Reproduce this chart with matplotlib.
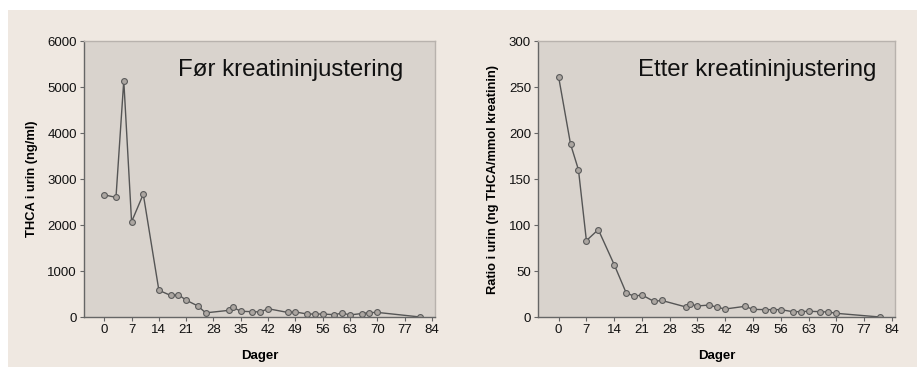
import matplotlib
matplotlib.use("Agg")
from matplotlib import pyplot as plt
from matplotlib.patches import Rectangle

plt.rcParams['font.family'] = ['Liberation Sans', 'DejaVu Sans']

# dager etter siste inntak
days = [0, 3, 5, 7, 10, 14, 17, 19, 21, 24, 26, 32, 33, 35, 38, 40, 42,
        47, 49, 52, 54, 56, 59, 61, 63, 66, 68, 70, 81]

# THCA i urin (ng/ml), foer kreatininjustering
thca_raw = [2655, 2600, 5140, 2070, 2670, 580, 470, 485, 365, 240, 90, 145, 210,
            125, 115, 110, 180, 100, 110, 65, 65, 65, 50, 85, 45, 75, 95, 100, 0]

# ratio (ng THCA/mmol kreatinin), etter kreatininjustering
thca_ratio = [261, 188, 160, 83, 95, 57, 26.5, 22.5, 24, 17, 18, 11, 14,
              12, 13, 10.5, 8.7, 11.6, 8.3, 8, 8, 8, 5.8, 5.8, 6.2, 5.8, 5.4, 4, 0]

xticks = list(range(0, 85, 7))

bg = '#efe8e1'
face = '#d9d3cd'


def panel(ax, y, ylim, yticks, ylabel, title, tx):
    ax.set_facecolor(face)
    ax.plot(days, y, color='#555555', lw=1.0, marker='o', markersize=4.2,
            markerfacecolor='#aca6a1', markeredgecolor='#5a5a5a', markeredgewidth=0.8)
    ax.set_xlim(-5.2, 84.8)
    ax.set_ylim(*ylim)
    ax.set_xticks(xticks)
    ax.set_yticks(yticks)
    ax.tick_params(axis='both', labelsize=9.5, length=3, width=0.8, color='#666666',
                   labelcolor='#111111', pad=2)
    for s in ['left', 'bottom']:
        ax.spines[s].set_color('#666666')
        ax.spines[s].set_linewidth(1.0)
    for s in ['top', 'right']:
        ax.spines[s].set_color('#b8b2ad')
        ax.spines[s].set_linewidth(1.0)
    ax.set_ylabel(ylabel, fontsize=9.3, fontweight='bold', labelpad=7)
    ax.set_xlabel('Dager', fontsize=9.5, fontweight='bold', labelpad=10)
    ax.text(tx, 0.873, title, transform=ax.transAxes, fontsize=17.3,
            ha='left', va='baseline', color='#111111')


fig = plt.figure(figsize=(9.17, 3.67), dpi=100, facecolor='white')
fig.patches.append(Rectangle((8 / 917, 0), 1, 357 / 367, transform=fig.transFigure,
                             facecolor=bg, edgecolor='none', zorder=-10))

ax1 = fig.add_axes([84 / 917, 50 / 367, 351 / 917, 276 / 367])
panel(ax1, thca_raw, (0, 6000), range(0, 6001, 1000),
      'THCA i urin (ng/ml)', 'Før kreatininjustering', 0.268)

ax2 = fig.add_axes([538 / 917, 50 / 367, 357 / 917, 276 / 367])
panel(ax2, thca_ratio, (0, 300), range(0, 301, 50),
      'Ratio i urin (ng THCA/mmol kreatinin)', 'Etter kreatininjustering', 0.28)

fig.savefig('out.png', dpi=100, facecolor='white')
